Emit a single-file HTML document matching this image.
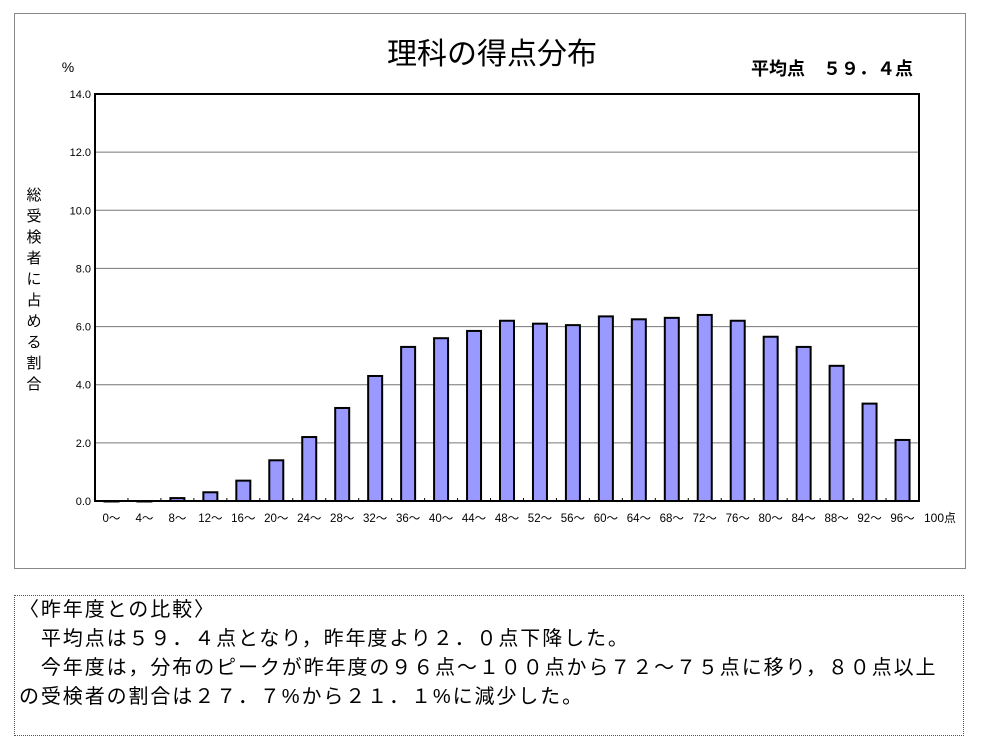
<!DOCTYPE html>
<html><head><meta charset="utf-8"><style>
body{margin:0;background:#fff;font-family:"Liberation Sans","Noto Sans CJK JP",sans-serif;}
#wrap{position:relative;width:982px;height:749px;overflow:hidden}
.note{position:absolute;left:14px;top:595px;width:950px;height:141px;border:1px dotted #555;font-size:20px;letter-spacing:1.9px;line-height:29px;box-sizing:border-box;padding:0 0 0 4px;color:#000;white-space:nowrap}
</style></head><body>
<div id="wrap">
<svg id="chart" width="982" height="590" style="position:absolute;left:0;top:0" font-family="Liberation Sans, Noto Sans CJK JP, sans-serif">
<rect x="14.5" y="13.5" width="951" height="555" fill="#fff" stroke="#888"/>
<text x="492" y="64" font-size="30" text-anchor="middle">理科の得点分布</text>
<text x="913" y="75" font-size="18" text-anchor="end" font-weight="bold">平均点　５９．４点</text>
<text x="68" y="72" font-size="14" text-anchor="middle">%</text>
<text x="34" font-size="15" text-anchor="middle">
<tspan x="34" y="200">総</tspan><tspan x="34" y="221">受</tspan><tspan x="34" y="242">検</tspan><tspan x="34" y="263">者</tspan><tspan x="34" y="284">に</tspan><tspan x="34" y="305">占</tspan><tspan x="34" y="326">め</tspan><tspan x="34" y="347">る</tspan><tspan x="34" y="368">割</tspan><tspan x="34" y="389">合</tspan></text>
<g id="grid"></g><g id="bars"></g><g id="axes"></g>
</svg>
<div class="note">
<div>〈昨年度との比較〉</div>
<div>　平均点は５９．４点となり，昨年度より２．０点下降した。</div>
<div>　今年度は，分布のピークが昨年度の９６点～１００点から７２～７５点に移り，８０点以上</div>
<div>の受検者の割合は２７．７%から２１．１%に減少した。</div>
</div>
</div>
<script>
const categories=["0～","4～","8～","12～","16～","20～","24～","28～","32～","36～","40～","44～","48～","52～","56～","60～","64～","68～","72～","76～","80～","84～","88～","92～","96～"];
const values=[0.0,0.0,0.1,0.3,0.7,1.4,2.2,3.2,4.3,5.3,5.6,5.85,6.2,6.1,6.05,6.35,6.25,6.3,6.4,6.2,5.65,5.3,4.65,3.35,2.1];
const yTicks=[0,2,4,6,8,10,12,14];
const yTickLabels=["0.0","2.0","4.0","6.0","8.0","10.0","12.0","14.0"];
const NS="http://www.w3.org/2000/svg";
const L=95,R=919,T=94,B=501,yMax=14;
const y=v=>B-(v/yMax)*(B-T);
const bw=(R-L)/categories.length;
const x=i=>L+bw*i;
function mk(tag,attrs,parent,txt){const e=document.createElementNS(NS,tag);for(const k in attrs)e.setAttribute(k,attrs[k]);if(txt!==undefined)e.textContent=txt;document.getElementById(parent).appendChild(e);return e;}
yTicks.forEach((t,i)=>{
  if(t>0&&t<yMax){const g=mk('line',{x1:L,x2:R,y1:y(t),y2:y(t),stroke:'#777','stroke-width':1},'grid');
  
  }
  const lb=mk('text',{x:L-4,y:y(t)+4,'font-size':11,'text-anchor':'end'},'axes',yTickLabels[i]);
  
  
});
values.forEach((v,i)=>{
  const h=B-y(v);
  const r=mk('rect',{x:x(i)+bw/2-7,y:y(v),width:14,height:Math.max(h,0.5),fill:'#9999ff',stroke:'#000','stroke-width':2},'bars');
  
  
  const lb=mk('text',{x:x(i)+bw/2,y:522,'font-size':11.5,'text-anchor':'middle'},'axes',categories[i]);
  
  
  const tk=mk('line',{x1:x(i),x2:x(i),y1:B,y2:B-3,stroke:'#000'},'axes');
  
  
});
const end=mk('text',{x:R+21,y:522,'font-size':12,'text-anchor':'middle'},'axes','100点');


const pf=mk('rect',{x:L,y:T,width:R-L,height:B-T,fill:'none',stroke:'#000','stroke-width':2},'axes');


</script>
</body></html>
